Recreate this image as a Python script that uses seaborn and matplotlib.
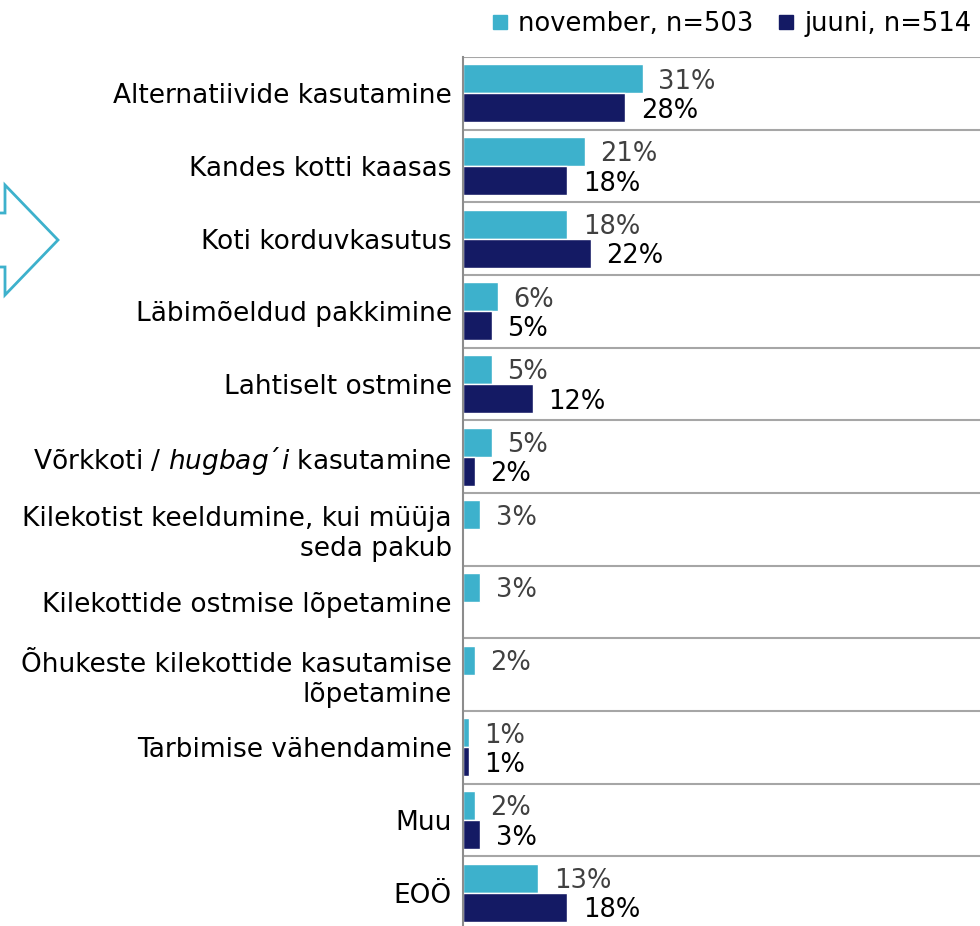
import matplotlib
matplotlib.use("Agg")
import matplotlib.pyplot as plt
import seaborn as sns
import pandas as pd
import numpy as np
from matplotlib.patches import Polygon
from matplotlib.lines import Line2D

categories = [
    "Alternatiivide kasutamine",
    "Kandes kotti kaasas",
    "Koti korduvkasutus",
    "Läbimõeldud pakkimine",
    "Lahtiselt ostmine",
    r"Võrkkoti / $\mathit{hugbag´i}$ kasutamine",
    "Kilekotist keeldumine, kui müüja\nseda pakub",
    "Kilekottide ostmise lõpetamine",
    "Õhukeste kilekottide kasutamise\nlõpetamine",
    "Tarbimise vähendamine",
    "Muu",
    "EOÖ",
]
november = [31, 21, 18, 6, 5, 5, 3, 3, 2, 1, 2, 13]
juuni = [28, 18, 22, 5, 12, 2, np.nan, np.nan, np.nan, 1, 3, 18]
series_names = ["november, n=503", "juuni, n=514"]

colors = ["#3DB1CC", "#141A64"]
label_colors = ["#404040", "#000000"]

df = pd.concat([
    pd.DataFrame({"cat": categories, "val": november, "series": series_names[0]}),
    pd.DataFrame({"cat": categories, "val": juuni, "series": series_names[1]}),
]).dropna()

sns.set_theme(style="white")
plt.rcParams["font.family"] = ["DejaVu Sans"]
plt.rcParams["mathtext.fontset"] = "dejavusans"

fig = plt.figure(figsize=(9.8, 9.26), dpi=100)
ax = fig.add_axes([463 / 980, 1 - 929 / 926, 1 - 463 / 980, (929 - 57) / 926])

sns.barplot(data=df, y="cat", x="val", hue="series", order=categories,
            hue_order=series_names, palette=colors, orient="h",
            width=0.8, ax=ax, legend=False, saturation=1, errorbar=None)

fs = 18.5
for cont, lc in zip(ax.containers, label_colors):
    labels = [f"{b.get_width():.0f}%" for b in cont]
    texts = ax.bar_label(cont, labels=labels, padding=11, color=lc, fontsize=fs)
    for t in texts:
        t.set_va("center_baseline")

ax.set_xlim(0, 517 / 5.8)
ax.set_ylim(len(categories) - 0.5, -0.5)
for i in range(len(categories) + 1):
    ax.axhline(i - 0.5, color="#A6A6A6", lw=1.5, zorder=0)

ax.set_xlabel("")
ax.set_ylabel("")
ax.set_xticks([])
ax.tick_params(axis="y", length=0, pad=8, labelsize=19, labelcolor="black")
for s in ["top", "right", "bottom"]:
    ax.spines[s].set_visible(False)
ax.spines["left"].set_color("#8C8C8C")
ax.spines["left"].set_linewidth(1.5)

handles = [Line2D([], [], marker="s", linestyle="none", markersize=10.5,
                  markerfacecolor=c, markeredgecolor=c) for c in colors]
fig.legend(handles, series_names, loc="upper left",
           bbox_to_anchor=(479 / 980, 1 - 1 / 926), ncol=2, frameon=False,
           fontsize=fs, handletextpad=0.3, columnspacing=0.9,
           borderaxespad=0, handlelength=0.8, labelcolor="black")

# decorative arrow outline on the left
pts = [(-60, 213), (5, 213), (5, 185), (58, 240), (5, 295), (5, 267), (-60, 267)]
fig_pts = [(x / 980, 1 - y / 926) for x, y in pts]
fig.patches.append(Polygon(fig_pts, closed=True, fill=False, edgecolor="#3DB1CC",
                           lw=2, transform=fig.transFigure, figure=fig))

fig.savefig("out.png", dpi=100)
